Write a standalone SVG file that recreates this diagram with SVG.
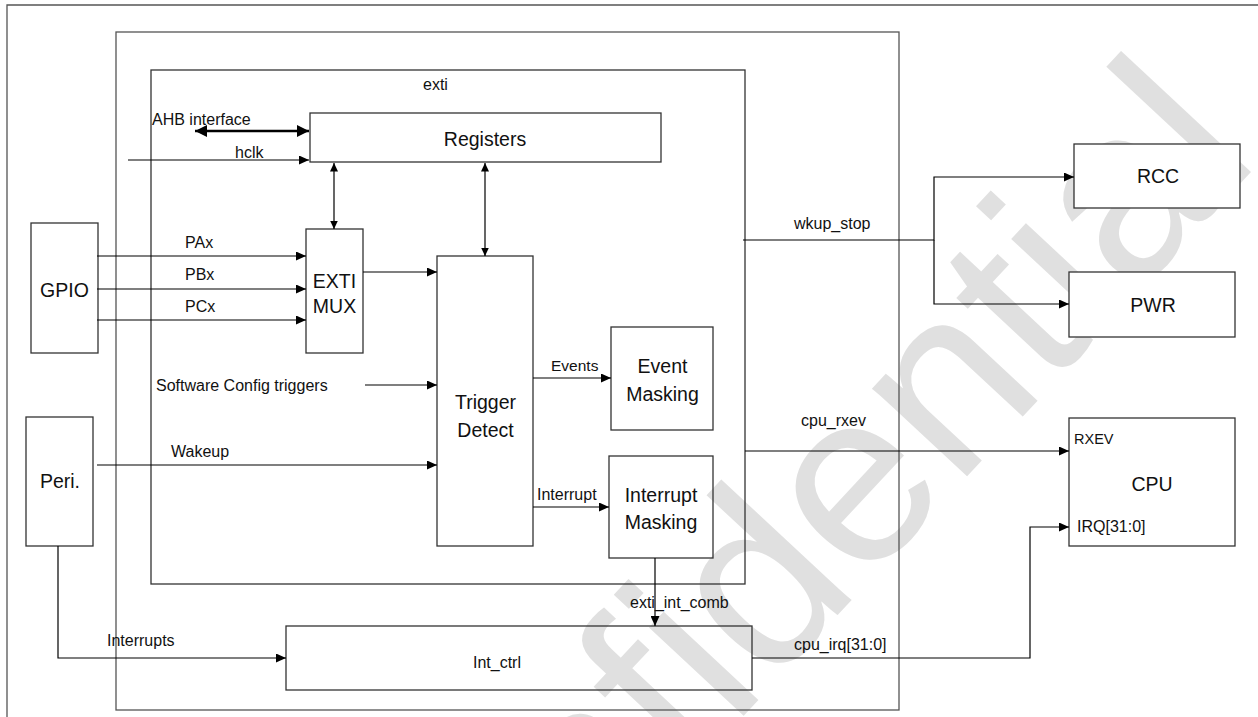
<svg xmlns="http://www.w3.org/2000/svg" width="1258" height="717" viewBox="0 0 1258 717">
<defs>
<style>
.box{fill:none;stroke:#333;stroke-width:1.3}
.wbox{fill:#fff;stroke:#333;stroke-width:1.3}
.frame{fill:none;stroke:#555;stroke-width:1.3}
.ln{fill:none;stroke:#000;stroke-width:1.2}
.thick{fill:none;stroke:#000;stroke-width:2.6}
text{font-family:"Liberation Sans",Arial,sans-serif;fill:#111}
.s{font-size:16px}
.b{font-size:19.5px;text-anchor:middle}
.wm{font-size:245px;fill:#e0e0e0;text-anchor:end}
</style>
<marker id="a" markerUnits="userSpaceOnUse" markerWidth="11" markerHeight="9" refX="10" refY="4.5" orient="auto-start-reverse"><path d="M0,0 L10,4.5 L0,9 z" fill="#000"/></marker>
<marker id="sm" markerUnits="userSpaceOnUse" markerWidth="9" markerHeight="8" refX="8.5" refY="4" orient="auto-start-reverse"><path d="M0,0 L8.5,4 L0,8 z" fill="#000"/></marker>
<marker id="bg" markerUnits="userSpaceOnUse" markerWidth="13" markerHeight="12" refX="12" refY="6" orient="auto-start-reverse"><path d="M0,0 L12,6 L0,12 z" fill="#000"/></marker>
</defs>
<rect width="1258" height="717" fill="#fff"/>
<text class="wm" transform="translate(1262,160) rotate(-47)">Confidential</text>
<path class="frame" d="M7,717 V5 H1258"/>
<g id="chip"><rect class="frame" x="116" y="32" width="783" height="678"/></g>
<g id="exti"><rect class="box" x="151" y="70" width="594" height="514"/><text class="s" x="423" y="90">exti</text></g>
<g id="registers"><rect class="box" x="310" y="113" width="351" height="49"/><text class="b" x="485" y="146">Registers</text></g>
<g id="extimux"><rect class="box" x="306" y="229" width="57" height="124"/><text class="b" x="334.5" y="288">EXTI</text><text class="b" x="334.5" y="313">MUX</text></g>
<g id="gpio"><rect class="box" x="31" y="223" width="67" height="130"/><text class="b" x="64.5" y="297">GPIO</text></g>
<g id="peri"><rect class="box" x="26" y="417" width="67" height="129"/><text class="b" x="60" y="488">Peri.</text></g>
<g id="trigger"><rect class="box" x="437" y="256" width="96" height="290"/><text class="b" x="485.5" y="409">Trigger</text><text class="b" x="485.5" y="437">Detect</text></g>
<g id="eventmask"><rect class="box" x="611" y="327" width="102" height="103"/><text class="b" x="662.5" y="373">Event</text><text class="b" x="662.5" y="401">Masking</text></g>
<g id="intmask"><rect class="box" x="609" y="456" width="104" height="102"/><text class="b" x="661" y="502">Interrupt</text><text class="b" x="661" y="529">Masking</text></g>
<g id="intctrl"><rect class="box" x="286" y="626" width="466" height="64"/><text class="s" x="497" y="668" text-anchor="middle">Int_ctrl</text></g>
<g id="rcc"><rect class="wbox" x="1074" y="144" width="166" height="64"/><text class="b" x="1158" y="183">RCC</text></g>
<g id="pwr"><rect class="wbox" x="1069" y="272" width="166" height="65"/><text class="b" x="1153" y="312">PWR</text></g>
<g id="cpu"><rect class="wbox" x="1069" y="418" width="166" height="128"/><text class="b" x="1152" y="491">CPU</text><text class="s" x="1074" y="444" style="font-size:14.5px">RXEV</text><text class="s" x="1077" y="532">IRQ[31:0]</text></g>
<g id="connectors">
<path class="thick" d="M195,131 H309" marker-start="url(#bg)" marker-end="url(#bg)"/>
<path class="ln" d="M128,160 H309" marker-end="url(#a)"/>
<path class="ln" d="M334,163 V229" marker-start="url(#sm)" marker-end="url(#sm)"/>
<path class="ln" d="M485,163 V256" marker-start="url(#sm)" marker-end="url(#sm)"/>
<path class="ln" d="M97,256 H306" marker-end="url(#a)"/>
<path class="ln" d="M97,289 H306" marker-end="url(#a)"/>
<path class="ln" d="M97,320 H306" marker-end="url(#a)"/>
<path class="ln" d="M363,272 H437" marker-end="url(#a)"/>
<path class="ln" d="M365,385 H437" marker-end="url(#a)"/>
<path class="ln" d="M97,465 H437" marker-end="url(#a)"/>
<path class="ln" d="M533,378 H611" marker-end="url(#a)"/>
<path class="ln" d="M533,507 H609" marker-end="url(#a)"/>
<path class="ln" d="M655,558 V626" marker-end="url(#a)"/>
<path class="ln" d="M58,546 V658 H286" marker-end="url(#a)"/>
<path class="ln" d="M752,658 H1030 V527 H1069" marker-end="url(#a)"/>
<path class="ln" d="M743,240 H934 V177 H1074" marker-end="url(#a)"/>
<path class="ln" d="M934,240 V304 H1069" marker-end="url(#a)"/>
<path class="ln" d="M745,451 H1069" marker-end="url(#a)"/>
<text class="s" x="152" y="125">AHB interface</text>
<text class="s" x="235" y="158">hclk</text>
<text class="s" x="185" y="248">PAx</text>
<text class="s" x="185" y="280">PBx</text>
<text class="s" x="185" y="312">PCx</text>
<text class="s" x="156" y="391">Software Config triggers</text>
<text class="s" x="171" y="457">Wakeup</text>
<text class="s" x="551" y="371" style="font-size:15.5px">Events</text>
<text class="s" x="537" y="500">Interrupt</text>
<text class="s" x="630" y="608">exti_int_comb</text>
<text class="s" x="107" y="646">Interrupts</text>
<text class="s" x="794" y="650">cpu_irq[31:0]</text>
<text class="s" x="794" y="229">wkup_stop</text>
<text class="s" x="801" y="426">cpu_rxev</text>
</g>
</svg>
